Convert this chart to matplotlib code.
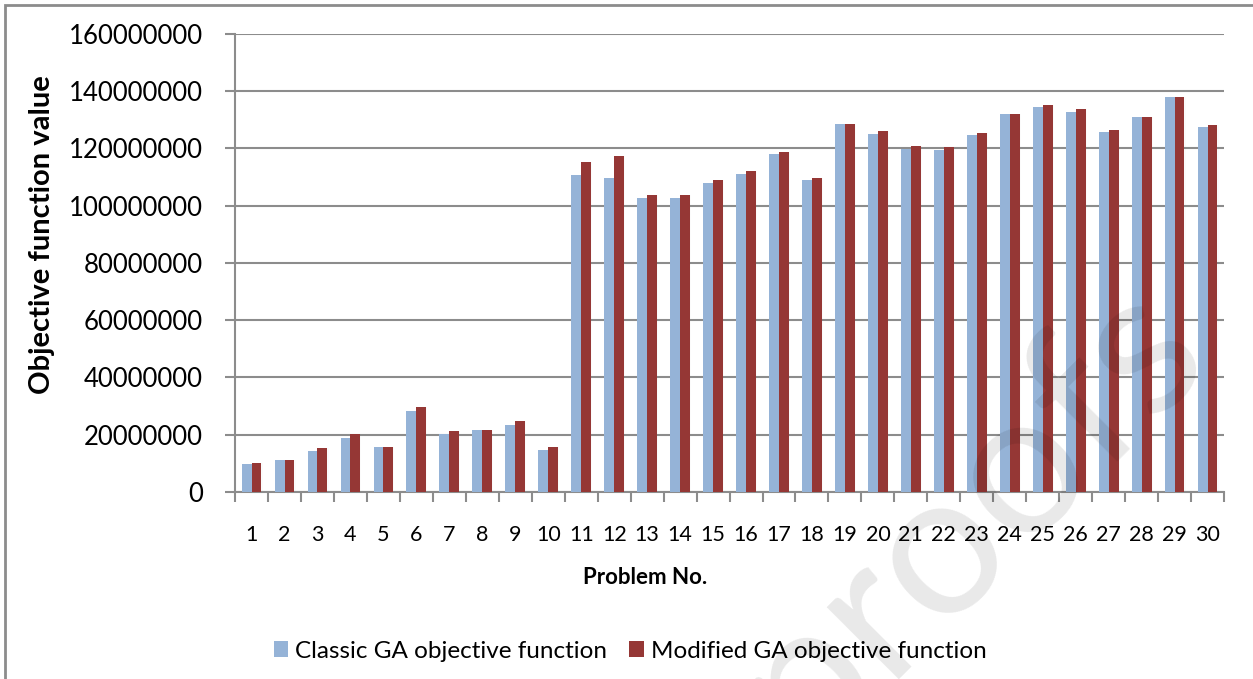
import matplotlib.pyplot as plt
from matplotlib.patches import Rectangle
import numpy as np

# values
problems = [str(i) for i in range(1, 31)]
classic_ga = [9.8e6, 11.2e6, 14.4e6, 18.9e6, 15.8e6, 28.4e6, 20.4e6, 21.8e6, 23.5e6, 14.7e6,
              110.8e6, 109.8e6, 102.7e6, 102.7e6, 108.0e6, 111.2e6, 118.2e6, 109.1e6, 128.4e6, 124.9e6,
              119.9e6, 119.6e6, 124.8e6, 132.2e6, 134.6e6, 132.9e6, 125.8e6, 131.1e6, 138.1e6, 127.6e6]
modified_ga = [10.2e6, 11.2e6, 15.4e6, 20.4e6, 15.8e6, 29.8e6, 21.4e6, 21.8e6, 24.9e6, 15.8e6,
               115.1e6, 117.2e6, 103.8e6, 103.8e6, 109.1e6, 112.2e6, 118.9e6, 109.8e6, 128.4e6, 126.0e6,
               120.9e6, 120.6e6, 125.5e6, 132.2e6, 135.3e6, 133.9e6, 126.5e6, 131.1e6, 138.1e6, 128.3e6]
y_ticks = [0, 20000000, 40000000, 60000000, 80000000, 100000000, 120000000, 140000000, 160000000]

plt.rcParams['font.family'] = ['Lato', 'DejaVu Sans']

fig = plt.figure(figsize=(12.53, 6.79), dpi=100)
ax = fig.add_axes([0.1876, 0.2754, 0.7893, 0.6746])

x = np.arange(len(problems))
w = 0.3
blue = '#95B3D7'
red = '#953735'

# soft shadow to the right of the bars (excel style)
for k, a in enumerate([0.10, 0.07, 0.05, 0.03]):
    off = w * 0.5 + 0.04 * (k + 1)
    ax.bar(x + off, modified_ga, 0.05, color='gray', alpha=a, linewidth=0, zorder=2)

ax.bar(x - w / 2, classic_ga, w, color=blue, label='Classic GA objective function', zorder=3)
ax.bar(x + w / 2, modified_ga, w, color=red, label='Modified GA objective function', zorder=3)

ax.set_xlim(-0.5, len(problems) - 0.5)
ax.set_ylim(0, 160000000)
ax.set_yticks(y_ticks)
ax.set_yticklabels([str(v) for v in y_ticks], fontsize=18.5)
ax.set_xticks(x)
ax.set_xticklabels(problems, fontsize=15.5)
ax.tick_params(axis='x', which='major', length=0, pad=24)
ax.set_xticks(np.arange(-0.5, len(problems), 1), minor=True)
ax.tick_params(axis='x', which='minor', length=7, width=1.5, color='#8c8c8c', direction='out')
ax.tick_params(axis='y', length=7, width=1.5, color='#8c8c8c', direction='out', pad=16)

ax.grid(axis='y', color='#8c8c8c', linewidth=1.5, zorder=0)
ax.set_axisbelow(True)
for s in ['top', 'right']:
    ax.spines[s].set_visible(False)
for s in ['left', 'bottom']:
    ax.spines[s].set_color('#8c8c8c')
    ax.spines[s].set_linewidth(1.5)

ax.set_ylabel('Objective function value', fontsize=21, fontweight='bold')
ax.yaxis.set_label_coords(-0.182, 0.561)
ax.set_xlabel('Problem No.', fontsize=16, fontweight='bold')
ax.xaxis.set_label_coords(0.4146, -0.164)

fig.legend(loc='center', bbox_to_anchor=(0.503, 0.041), ncol=2, frameon=False, fontsize=17.5,
           handlelength=0.6, handleheight=0.6, handletextpad=0.3, columnspacing=0.9)

# outer frame
fig.patches.append(Rectangle((5 / 1253, -0.5), 2, 1.5 - 5 / 679, transform=fig.transFigure,
                             fill=False, edgecolor='#8c8c8c', linewidth=2))

# watermark (runs off the bottom edge like in the original)
fig.text(968 / 1253, 1 - 515 / 679, 'proofs', rotation=45, fontsize=145, color='black', alpha=0.09,
         ha='center', va='center', zorder=10)

fig.savefig('out.png', dpi=100)
